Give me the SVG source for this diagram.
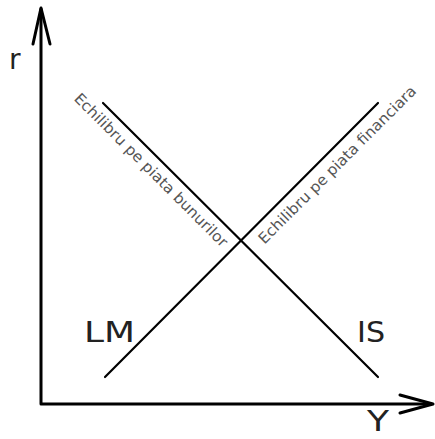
<svg xmlns="http://www.w3.org/2000/svg" width="435" height="439" viewBox="0 0 435 439">
<style>
.axis{stroke:#000;stroke-width:3;fill:none;stroke-linecap:round;stroke-linejoin:round}
.curve{stroke:#000;stroke-width:2.2;fill:none;stroke-linecap:round}
.lbl{font-family:"DejaVu Sans",Verdana,sans-serif;font-size:28px;fill:#222}
.rot{font-family:"DejaVu Sans",Verdana,sans-serif;font-size:15px;fill:#555}
</style>
<rect width="435" height="439" fill="#fff"/>
<g id="connectors">
<path class="axis" d="M41,9 V404 H431"/>
<path class="axis" d="M33,44 L41,8 L50,44"/>
<path class="axis" d="M400,395 L433,404 L400,413"/>
<line id="IS-line" class="curve" x1="103" y1="103" x2="378" y2="377"/>
<line id="LM-line" class="curve" x1="105" y1="377" x2="378" y2="103"/>
</g>
<g id="axis-r"><text class="lbl" x="9" y="69">r</text></g>
<g id="axis-Y"><text class="lbl" x="367" y="431" font-size="25" textLength="22" lengthAdjust="spacingAndGlyphs">Y</text></g>
<g id="LM"><text class="lbl" x="84" y="342" textLength="51" lengthAdjust="spacingAndGlyphs">LM</text></g>
<g id="IS"><text class="lbl" x="357" y="342" textLength="28" lengthAdjust="spacingAndGlyphs">IS</text></g>
<g id="label-bunuri"><text class="rot" transform="translate(73.2,99.4) rotate(45)" x="0" y="0" textLength="210" lengthAdjust="spacingAndGlyphs">Echilibru pe piata bunurilor</text></g>
<g id="label-financiara"><text class="rot" transform="translate(264.5,244.7) rotate(-45)" x="0" y="0" textLength="216" lengthAdjust="spacingAndGlyphs">Echilibru pe piata financiara</text></g>
</svg>
